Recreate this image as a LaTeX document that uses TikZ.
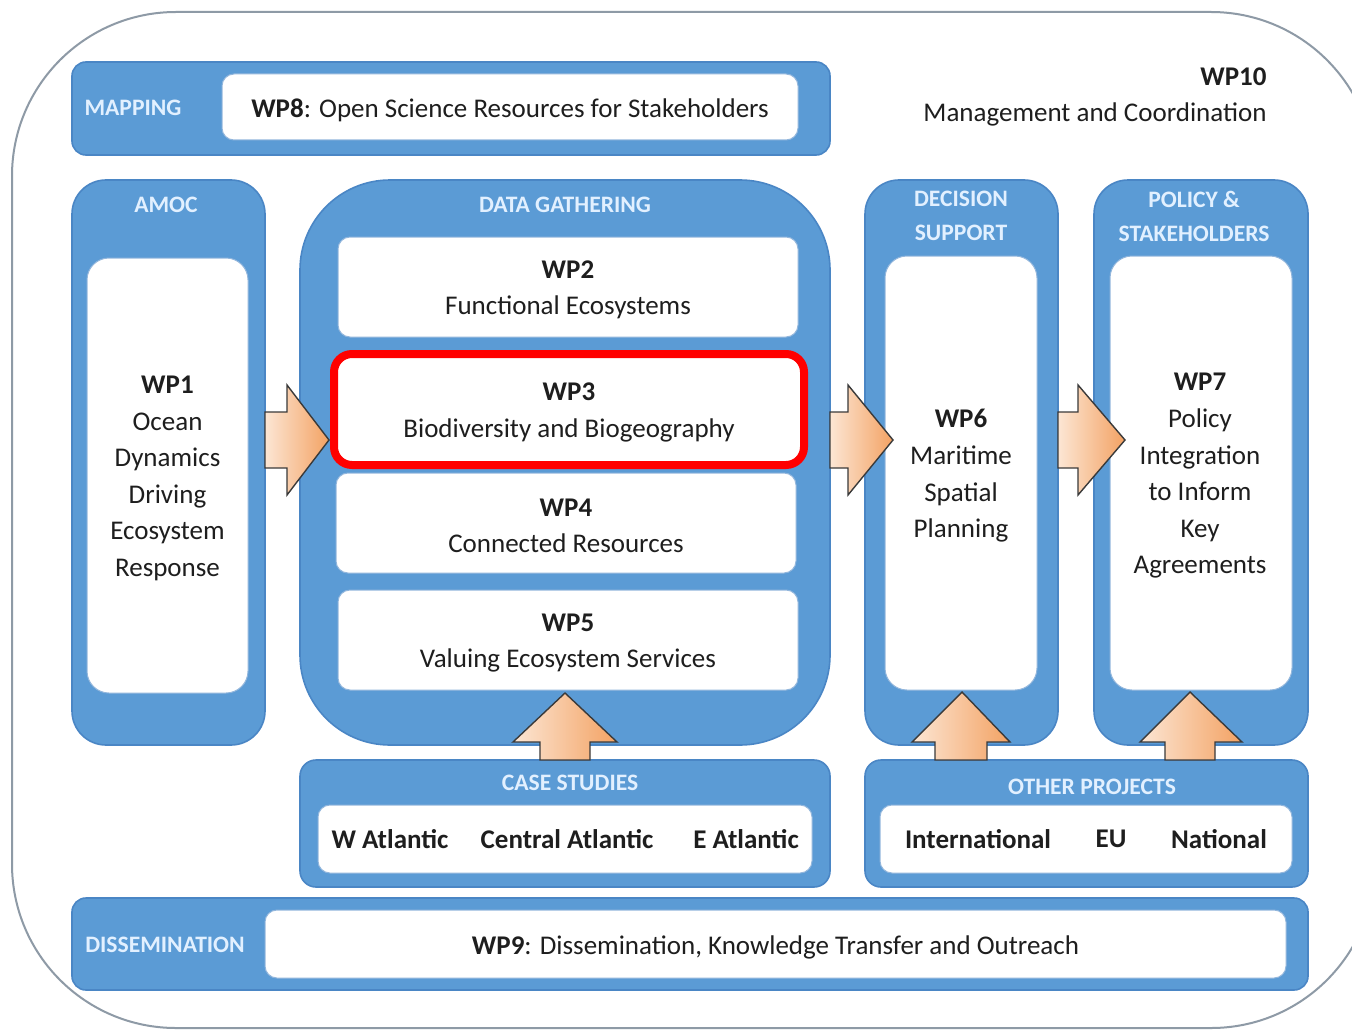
\documentclass[tikz,border=0pt]{standalone}
\usepackage{fontspec}
\setmainfont{Carlito}
\usetikzlibrary{fit}
\definecolor{bluefill}{HTML}{5B9BD5}
\definecolor{blueedge}{HTML}{4A86C5}
\definecolor{labeltxt}{HTML}{E2F0FF}
\definecolor{frameg}{HTML}{8E9AA6}
\definecolor{arrowL}{HTML}{FCE6D4}
\definecolor{arrowR}{HTML}{F3A263}
\definecolor{arrowedge}{HTML}{3A3A3A}
\definecolor{txt}{HTML}{1E1E1E}
\begin{document}
\begin{tikzpicture}[x=0.5pt,y=-0.5pt,
 bluebox/.style={fill=bluefill, draw=blueedge, line width=0.8pt, inner sep=0pt},
 whitebox/.style={fill=white, draw=blueedge!60, line width=0.5pt, inner sep=0pt, rounded corners=6pt},
 lbl/.style={text=labeltxt, font=\bfseries\fontsize{11.8}{16}\selectfont, align=center, inner sep=0pt},
 wtext/.style={text=txt, font=\fontsize{13.5}{18.3}\selectfont, inner sep=0pt, align=center, yshift=-1.5pt},
 btext/.style={text=txt, font=\bfseries\fontsize{13.5}{18.3}\selectfont, inner sep=0pt},
 blockarrow/.style={left color=arrowL, right color=arrowR, draw=arrowedge, line width=0.7pt, line join=miter}
]
\useasboundingbox (0,0) rectangle (1352,1032);
\fill[white] (0,0) rectangle (1352,1032);
% outer frame
\draw[frameg, line width=1pt, rounded corners=82pt] (12,12) rectangle (1375,1028);

% WP10
\node[wtext, anchor=east, align=right] (wp10) at (1267,94) {\textbf{WP10}\\Management and Coordination};

% Mapping
\node[bluebox, rounded corners=7pt, fit={(72,62)(830,155)}] (mapping) {};
\node[lbl] (mapL) at (133,108) {MAPPING};
\node[whitebox, fit={(222,74)(798,140)}] (wp8) {};
\node[wtext] (wp8t) at (wp8.center) {\textbf{WP8}: Open Science Resources for Stakeholders};

% AMOC
\node[bluebox, rounded corners=17pt, fit={(72,180)(265,745)}] (amoc) {};
\node[lbl] (amocL) at (166,205) {AMOC};
\node[whitebox, rounded corners=11pt, fit={(87,258)(248,693)}] (wp1) {};
\node[wtext] (wp1t) at (wp1.center) {\textbf{WP1}\\Ocean\\Dynamics\\Driving\\Ecosystem\\Response};

% Data gathering
\node[bluebox, rounded corners=45pt, fit={(300,180)(830,745)}] (data) {};
\node[lbl] (dataL) at (565,205) {DATA GATHERING};
\node[whitebox, fit={(338,237)(798,337)}] (wp2) {};
\node[wtext] (wp2t) at (wp2.center) {\textbf{WP2}\\Functional Ecosystems};
\node[whitebox, fit={(336,473)(796,573)}] (wp4) {};
\node[wtext] (wp4t) at (wp4.center) {\textbf{WP4}\\Connected Resources};
\node[whitebox, fit={(338,590)(798,690)}] (wp5) {};
\node[wtext] (wp5t) at (wp5.center) {\textbf{WP5}\\Valuing Ecosystem Services};

% Decision support
\node[bluebox, rounded corners=17pt, fit={(865,180)(1058,745)}] (dec) {};
\node[lbl] (decL) at (961,216) {DECISION\\[1pt]SUPPORT};
\node[whitebox, rounded corners=11pt, fit={(885,256)(1037,690)}] (wp6) {};
\node[wtext] (wp6t) at (wp6.center) {\textbf{WP6}\\Maritime\\Spatial\\Planning};

% Policy
\node[bluebox, rounded corners=17pt, fit={(1094,180)(1308,745)}] (pol) {};
\node[lbl] (polL) at (1194,216) {POLICY \&\\[1pt]STAKEHOLDERS};
\node[whitebox, rounded corners=11pt, fit={(1110,256)(1292,690)}] (wp7) {};
\node[wtext] (wp7t) at (1200,473) {\textbf{WP7}\\Policy\\Integration\\to Inform\\Key\\Agreements};

% Case studies
\node[bluebox, rounded corners=8pt, fit={(300,760)(830,887)}] (case) {};
\node[lbl] (caseL) at (570,783) {CASE STUDIES};
\node[whitebox, fit={(318,805)(812,873)}] (caseW) {};
\node[btext] (watl) at (390,839) {W Atlantic};
\node[btext] (catl) at (567,839) {Central Atlantic};
\node[btext] (eatl) at (746,839) {E Atlantic};

% Other projects
\node[bluebox, rounded corners=8pt, fit={(865,760)(1308,887)}] (other) {};
\node[lbl] (otherL) at (1092,787) {OTHER PROJECTS};
\node[whitebox, fit={(880,805)(1292,873)}] (otherW) {};
\node[btext] (intl) at (978,839) {International};
\node[btext] (eu) at (1111,839) {EU};
\node[btext] (natl) at (1219,839) {National};

% Dissemination
\node[bluebox, rounded corners=7pt, fit={(72,898)(1308,990)}] (diss) {};
\node[lbl] (dissL) at (165,945) {DISSEMINATION};
\node[whitebox, fit={(265,910)(1286,978)}] (wp9) {};
\node[wtext] (wp9t) at (wp9.center) {\textbf{WP9}: Dissemination, Knowledge Transfer and Outreach};

% block arrows
\draw[blockarrow] (265,412) -- (287,412) -- (287,385) -- (329,440) -- (287,495) -- (287,468) -- (265,468) -- cycle;
\draw[blockarrow] (830,412) -- (848,412) -- (848,385) -- (893,440) -- (848,495) -- (848,468) -- (830,468) -- cycle;
\draw[blockarrow] (1058,412) -- (1078,412) -- (1078,385) -- (1125,440) -- (1078,495) -- (1078,468) -- (1058,468) -- cycle;
\draw[blockarrow] (540,760) -- (540,742) -- (513,742) -- (565,693) -- (617,742) -- (590,742) -- (590,760) -- cycle;
\draw[blockarrow] (935,760) -- (935,742) -- (912,742) -- (962,692) -- (1010,742) -- (987,742) -- (987,760) -- cycle;
\draw[blockarrow] (1165,760) -- (1165,742) -- (1140,742) -- (1190,692) -- (1242,742) -- (1215,742) -- (1215,760) -- cycle;

% WP3 highlighted
\node[whitebox, draw=red, line width=4pt, rounded corners=9pt, fit={(334,354)(804,465)}] (wp3) {};
\node[wtext] (wp3t) at (wp3.center) {\textbf{WP3}\\Biodiversity and Biogeography};
\end{tikzpicture}
\end{document}
